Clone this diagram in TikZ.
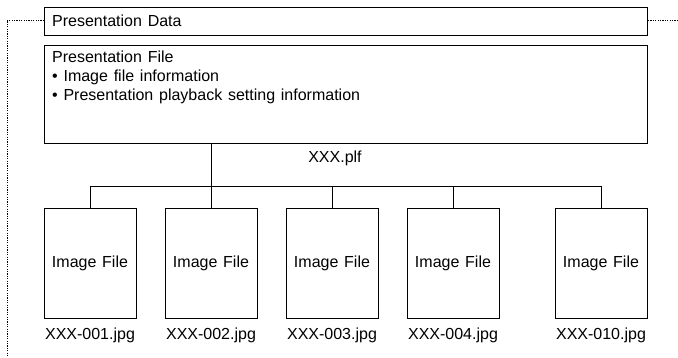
\documentclass[tikz,border=0pt]{standalone}
\usepackage{fontspec}
\setmainfont{Liberation Sans}
\begin{document}
\begin{tikzpicture}[x=1pt,y=-1pt,
  every node/.style={font=\fontsize{16}{19}\selectfont, inner sep=0pt, execute at begin node={\spaceskip=0.36em plus 0.1em\relax}},
  box/.style={draw, line width=1pt},
  conn/.style={line width=1pt},
  dotline/.style={line width=1pt, dash pattern=on 1.2pt off 1.2pt}]
\useasboundingbox (0,0) rectangle (678,357);
% Presentation Data bar
\node[box, minimum width=603pt, minimum height=28pt, anchor=north west] (pd) at (44,7) {};
\node[anchor=west] (pdt) at (52,21) {Presentation Data};
% Presentation File box
\node[box, minimum width=603pt, minimum height=98pt, anchor=north west] (pf) at (44,45) {};
\node[anchor=north west, align=left] (pft) at (52,51) {Presentation File\\\textbullet\ Image file information\\\textbullet\ Presentation playback setting information};
\node (plf) at (335,158) {XXX.plf};
% dotted brackets
\coordinate (dl1) at (7,20);
\coordinate (dl2) at (7,357);
\coordinate (dr) at (678,20);
\draw[dotline] (pd.west |- dl1) -- (dl1) -- (dl2);
\draw[dotline] (pd.east |- dr) -- (dr);
% image boxes
\foreach \i/\x/\lab in {1/90/001, 2/211/002, 3/332/003, 4/453/004, 5/601/010}{
  \node[box, minimum width=92pt, minimum height=110pt] (img\i) at (\x,263) {Image File};
  \node (lab\i) at (\x,335) {XXX-\lab.jpg};
}
\coordinate (bus) at (211,186);
\draw[conn] (pf.south -| img2.north) -- (img2.north);
\draw[conn] (img1.north) -- (img1.north |- bus) -- (img5.north |- bus) -- (img5.north);
\draw[conn] (img3.north |- bus) -- (img3.north);
\draw[conn] (img4.north |- bus) -- (img4.north);
\end{tikzpicture}
\end{document}
